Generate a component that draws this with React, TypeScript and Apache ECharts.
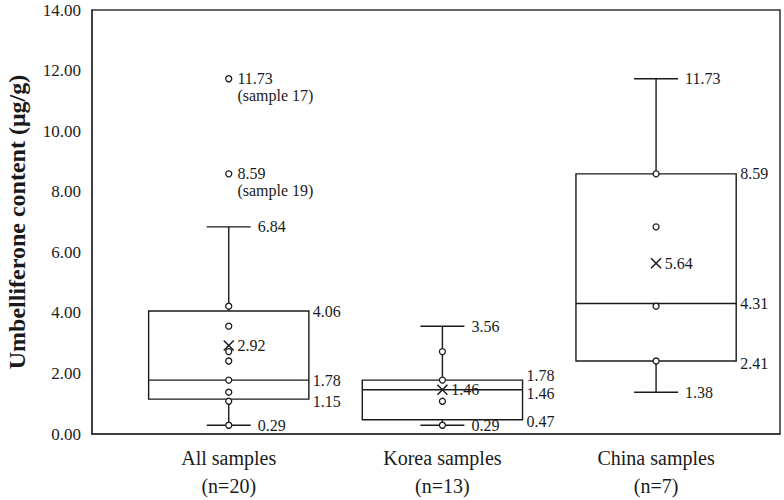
import React, { useEffect, useRef } from 'react';
import * as echarts from 'echarts';

const categories = ['All samples', 'Korea samples', 'China samples'];
const sampleCounts = ['(n=20)', '(n=13)', '(n=7)'];
const whiskerLow = [0.29, 0.29, 1.38];
const quartile1 = [1.15, 0.47, 2.41];
const medians = [1.78, 1.46, 4.31];
const quartile3 = [4.06, 1.78, 8.59];
const whiskerHigh = [6.84, 3.56, 11.73];
const means = [2.92, 1.46, 5.64];
const allPoints = [4.22, 3.56, 2.72, 2.41, 1.78, 1.38, 1.08, 0.29];
const koreaPoints = [2.72, 1.78, 1.08, 0.29];
const chinaPoints = [8.59, 6.84, 4.22, 2.41];
const outlierValues = [11.73, 8.59];
const outlierNotes = ['(sample 17)', '(sample 19)'];
const yTicks = [0, 2, 4, 6, 8, 10, 12, 14];

const FONT = '"Liberation Serif", "Times New Roman", serif';
const INK = '#1a1a1a';

export default function App() {
  const ref = useRef<HTMLDivElement>(null);
  useEffect(() => {
    document.body.style.margin = '0';
    const chart = echarts.init(ref.current!, null, { renderer: 'svg' });
    const boxData = categories.map((_, i) => [
      i + 1, whiskerLow[i], quartile1[i], medians[i], quartile3[i], whiskerHigh[i],
    ]);
    const pointData = [
      ...allPoints.map((v) => [1, v]),
      ...koreaPoints.map((v) => [2, v]),
      ...chinaPoints.map((v) => [3, v]),
    ];
    const outlierData = outlierValues.map((v, i) => [1, v, outlierNotes[i]]);
    const meanData = means.map((v, i) => [i + 1, v]);
    const txt = (x: number, y: number, text: string) => ({
      type: 'text',
      x, y,
      style: {
        text,
        fill: INK,
        font: `16px ${FONT}`,
        align: 'left',
        verticalAlign: 'middle',
      },
    });
    const lineStyle = { stroke: INK, lineWidth: 1.4 };
    const option: any = {
      animation: false,
      grid: {
        left: 92, right: 4, top: 10, bottom: 66,
        outerBoundsMode: 'none',
        containLabel: false,
        show: true, borderColor: '#333', borderWidth: 1.5,
      },
      xAxis: {
        type: 'value',
        min: 0.36,
        max: 3.58,
        splitLine: { show: false },
        axisTick: { show: false },
        axisLine: { show: true, lineStyle: { color: '#333', width: 1.5 } },
        axisLabel: {
          customValues: [1, 2, 3],
          formatter: (v: number) => {
            const i = Math.round(v) - 1;
            return categories[i] ? `${categories[i]}\n${sampleCounts[i]}` : '';
          },
          fontFamily: FONT,
          fontSize: 20,
          lineHeight: 28,
          color: INK,
          margin: 10,
        },
      },
      yAxis: {
        type: 'value',
        min: 0,
        max: 14,
        interval: 2,
        name: 'Umbelliferone content (μg/g)',
        nameLocation: 'middle',
        nameGap: 63,
        nameTextStyle: { fontFamily: FONT, fontSize: 24, fontWeight: 'bold', color: INK },
        splitLine: { show: false },
        axisTick: { show: false },
        axisLine: { show: true, lineStyle: { color: '#333', width: 1.5 } },
        axisLabel: {
          customValues: yTicks,
          formatter: (v: number) => v.toFixed(2),
          fontFamily: FONT,
          fontSize: 17,
          color: '#222',
          margin: 11,
        },
      },
      series: [
        {
          type: 'custom',
          z: 2,
          data: boxData,
          renderItem: (params: any, api: any) => {
            const x = api.value(0);
            const pl = api.coord([x, api.value(1)]);
            const p1 = api.coord([x, api.value(2)]);
            const pm = api.coord([x, api.value(3)]);
            const p3 = api.coord([x, api.value(4)]);
            const ph = api.coord([x, api.value(5)]);
            const half = api.size([0.375, 0])[0];
            const cap = api.size([0.103, 0])[0];
            const cx = pl[0];
            let yq3 = p3[1];
            let ymed = pm[1];
            const gap = ymed - yq3;
            const need = 18;
            if (gap < need) {
              yq3 -= (need - gap) / 2;
              ymed += (need - gap) / 2;
            }
            return {
              type: 'group',
              children: [
                { type: 'line', shape: { x1: cx, y1: p3[1], x2: cx, y2: ph[1] }, style: lineStyle },
                { type: 'line', shape: { x1: cx, y1: p1[1], x2: cx, y2: pl[1] }, style: lineStyle },
                { type: 'line', shape: { x1: cx - cap, y1: ph[1], x2: cx + cap, y2: ph[1] }, style: lineStyle },
                { type: 'line', shape: { x1: cx - cap, y1: pl[1], x2: cx + cap, y2: pl[1] }, style: lineStyle },
                {
                  type: 'rect',
                  shape: { x: cx - half, y: p3[1], width: half * 2, height: p1[1] - p3[1] },
                  style: { fill: 'none', stroke: INK, lineWidth: 1.4 },
                },
                { type: 'line', shape: { x1: cx - half, y1: pm[1], x2: cx + half, y2: pm[1] }, style: lineStyle },
                txt(cx + cap + 7, ph[1], api.value(5).toFixed(2)),
                txt(cx + cap + 7, pl[1], api.value(1).toFixed(2)),
                txt(cx + half + 4, yq3, api.value(4).toFixed(2)),
                txt(cx + half + 4, ymed, api.value(3).toFixed(2)),
                txt(cx + half + 4, p1[1] + 2, api.value(2).toFixed(2)),
              ],
            };
          },
        },
        {
          type: 'scatter',
          z: 3,
          data: pointData,
          symbol: 'circle',
          symbolSize: 6,
          itemStyle: { color: '#fff', borderColor: INK, borderWidth: 1.3, opacity: 1 },
        },
        {
          type: 'scatter',
          z: 3,
          data: outlierData,
          symbol: 'circle',
          symbolSize: 6,
          itemStyle: { color: '#fff', borderColor: INK, borderWidth: 1.3, opacity: 1 },
          label: {
            show: true,
            position: 'right',
            distance: 5,
            offset: [0, 8.5],
            formatter: (p: any) => `${p.value[1].toFixed(2)}\n${p.value[2]}`,
            fontFamily: FONT,
            fontSize: 16,
            lineHeight: 17,
            color: INK,
          },
        },
        {
          type: 'scatter',
          z: 4,
          data: meanData,
          symbol: 'path://M0,0L10,10M10,0L0,10',
          symbolSize: 10,
          itemStyle: { color: 'transparent', borderColor: INK, borderWidth: 1.5, opacity: 1 },
          label: {
            show: true,
            position: 'right',
            distance: 3,
            formatter: (p: any) => p.value[1].toFixed(2),
            fontFamily: FONT,
            fontSize: 16,
            color: INK,
          },
        },
      ],
    };
    chart.setOption(option);
    return () => chart.dispose();
  }, []);
  return <div ref={ref} style={{ width: 784, height: 500 }} />;
}
